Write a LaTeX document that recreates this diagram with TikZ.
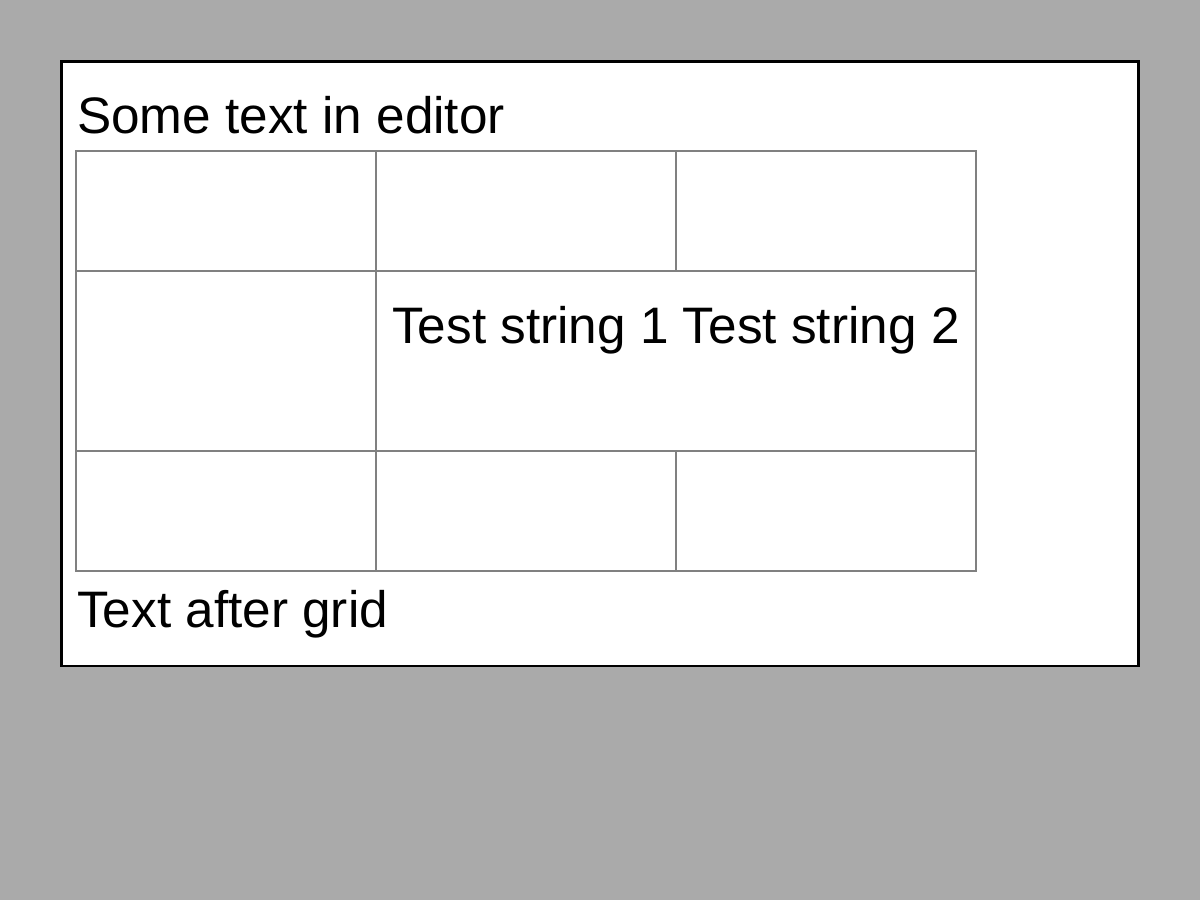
\documentclass[tikz,border=0pt]{standalone}
\usepackage{fontspec}
\setmainfont{Liberation Sans}
\definecolor{bggray}{HTML}{AAAAAA}
\definecolor{gridgray}{HTML}{808080}
\tikzset{
  txt/.style={anchor=base west, inner sep=0pt, font=\fontsize{51.3}{60}\selectfont},
  gridline/.style={draw=gridgray, line width=2pt},
  editor/.style={draw=black, fill=white, line width=2.5pt}
}
\begin{document}
\begin{tikzpicture}[x=1pt,y=-1pt]
  \path[fill=bggray] (0,0) rectangle (1200,900);
  \useasboundingbox (0,0) rectangle (1200,900);
  \draw[editor] (61.5,61.5) rectangle (1138.5,666);
  % grid
  \draw[gridline] (76,151) rectangle (976,571);
  \draw[gridline] (76,271) -- (976,271);
  \draw[gridline] (76,451) -- (976,451);
  \draw[gridline] (376,151) -- (376,571);
  \draw[gridline] (676,151) -- (676,271);
  \draw[gridline] (676,451) -- (676,571);
  % texts
  \node[txt] (t1) at (77,133) {Some text in editor};
  \node[txt] (t2) at (392,343) {Test string 1 Test string 2};
  \node[txt] (t3) at (77,627) {Text after grid};
\end{tikzpicture}
\end{document}
